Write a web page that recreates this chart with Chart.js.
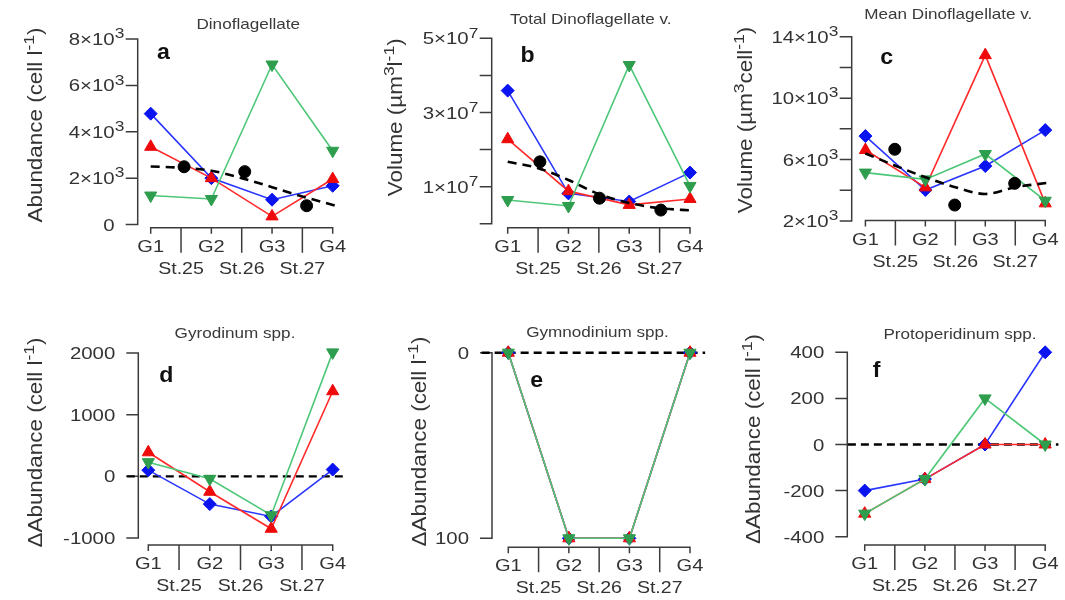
<!DOCTYPE html>
<html><head><meta charset="utf-8">
<script src="https://cdn.jsdelivr.net/npm/chart.js@4.4.0/dist/chart.umd.min.js"></script>
<style>
html,body{margin:0;padding:0;background:#fff;}
#wrap{position:relative;width:1065px;height:600px;overflow:hidden;background:#fff;}
#wrap canvas{position:absolute;left:0;top:0;}
</style></head><body><div id="wrap">
<canvas id="pa" width="1065" height="600"></canvas>
<canvas id="pb" width="1065" height="600"></canvas>
<canvas id="pc" width="1065" height="600"></canvas>
<canvas id="pd" width="1065" height="600"></canvas>
<canvas id="pe" width="1065" height="600"></canvas>
<canvas id="pf" width="1065" height="600"></canvas>
</div>
<script>
// ---------- categories ----------
const groups = ['G1', 'G2', 'G3', 'G4'];
const groupX = [0, 1, 2, 3];
const stations = ['St.25', 'St.26', 'St.27'];
const stationTickX = [0.5, 1.5, 2.5];

// ---------- panel a: Dinoflagellate abundance ----------
const abundBlue  = [4780, 2000, 1070, 1670];
const abundRed   = [3350, 2000, 350, 1960];
const abundGreen = [1250, 1100, 6900, 3180];
const abundStationX = [0.55, 1.55, 2.57];
const abundStation  = [2490, 2280, 810];
const abundTrendX = [0, 0.5, 1, 1.5, 2, 2.5, 3.05];
const abundTrend  = [2500, 2450, 2320, 2000, 1610, 1210, 810];
const abundTicks  = [0, 2000, 4000, 6000, 8000];
const abundTickLabels = ['0', '2×10^{3}', '4×10^{3}', '6×10^{3}', '8×10^{3}'];

// ---------- panel b: Total dinoflagellate volume ----------
const volBlue  = [3.59e7, 0.82e7, 0.60e7, 1.38e7];
const volRed   = [2.28e7, 0.88e7, 0.51e7, 0.67e7];
const volGreen = [0.64e7, 0.48e7, 4.28e7, 1.02e7];
const volStationX = [0.53, 1.51, 2.52];
const volStation  = [1.67e7, 0.69e7, 0.37e7];
const volTrendX = [0, 0.5, 1, 1.5, 2, 2.5, 3.05];
const volTrend  = [1.67e7, 1.50e7, 1.18e7, 0.80e7, 0.56e7, 0.42e7, 0.36e7];
const volTicks  = [0, 1e7, 2e7, 3e7, 4e7, 5e7];
const volTickLabels = ['', '1×10^{7}', '', '3×10^{7}', '', '5×10^{7}'];

// ---------- panel c: Mean dinoflagellate volume ----------
const meanBlue  = [7530, 4020, 5580, 7920];
const meanRed   = [6620, 4190, 12800, 3150];
const meanGreen = [5150, 4710, 6360, 3320];
const meanStationX = [0.49, 1.49, 2.49];
const meanStation  = [6670, 3040, 4450];
const meanTrendX = [0, 0.5, 1, 1.5, 2, 2.5, 3.05];
const meanTrend  = [6400, 5600, 4850, 4200, 3760, 4200, 4490];
const meanTicks  = [2000, 4000, 6000, 8000, 10000, 12000, 14000];
const meanTickLabels = ['2×10^{3}', '', '6×10^{3}', '', '10×10^{3}', '', '14×10^{3}'];

// ---------- panel d: Gyrodinum spp. ----------
const gyroBlue  = [100, -450, -650, 110];
const gyroRed   = [390, -250, -850, 1380];
const gyroGreen = [230, -40, -630, 2010];
const gyroTicks = [-1000, 0, 1000, 2000];
const gyroTickLabels = ['-1000', '0', '1000', '2000'];
const gyroZeroX = [-0.35, 3.17];

// ---------- panel e: Gymnodinium spp. ----------
const gymnoBlue  = [0, 100, 100, 0];
const gymnoRed   = [0, 100, 100, 0];
const gymnoGreen = [0, 100, 100, 0];
const gymnoTicks = [0, 100];
const gymnoTickLabels = ['0', '100'];
const gymnoZeroX = [-0.44, 3.25];

// ---------- panel f: Protoperidinum spp. ----------
const protoBlue  = [-200, -150, 0, 400];
const protoRed   = [-300, -150, 0, 0];
const protoGreen = [-300, -150, 200, 0];
const protoTicks = [-400, -200, 0, 200, 400];
const protoTickLabels = ['-400', '-200', '0', '200', '400'];
const protoZeroX = [-0.28, 3.22];

// ---------- style ----------
const FONT = '"Liberation Sans", Arial, Helvetica, sans-serif';
const AXIS = '#3c3c3c';
const TEXT = '#333';
const BLUE_L = '#2a35ff', BLUE_M = '#0a14f0';
const RED_L = '#ff2a2a', RED_M = '#ee0a0a';
const GREEN_L = '#4cc777', GREEN_M = '#2e9e4e';

function parseRich(str) {
  const segs = []; const re = /\^\{([^}]*)\}/g; let last = 0, m;
  while ((m = re.exec(str))) {
    if (m.index > last) segs.push({ t: str.slice(last, m.index) });
    segs.push({ t: m[1], sup: true }); last = re.lastIndex;
  }
  if (last < str.length) segs.push({ t: str.slice(last) });
  return segs;
}
function drawRich(ctx, str, x, y, o) {
  const segs = parseRich(str);
  const supSize = o.size * (o.supScale || 0.78), raise = o.size * 0.4;
  ctx.save(); ctx.translate(x, y); if (o.rot) ctx.rotate(o.rot); ctx.scale(o.sx || 1, 1);
  ctx.fillStyle = o.color || TEXT; ctx.textBaseline = 'alphabetic'; ctx.textAlign = 'left';
  const fontOf = s => `${o.weight || 'normal'} ${s.sup ? supSize : o.size}px ${FONT}`;
  const w = segs.map(s => { ctx.font = fontOf(s); return ctx.measureText(s.t).width; });
  const total = w.reduce((a, b) => a + b, 0);
  let base = total;
  if (segs.length && segs[segs.length - 1].sup) base -= w[w.length - 1];
  let cur = o.align === 'center' ? -total / 2 : o.align === 'right' ? -total : o.align === 'rightBase' ? -base : 0;
  segs.forEach((s, i) => { ctx.font = fontOf(s); ctx.fillText(s.t, cur, s.sup ? -raise : 0); cur += w[i]; });
  ctx.restore();
}

const deco = {
  id: 'deco',
  beforeDatasetsDraw(chart) {
    const P = chart.options.plugins.deco, ctx = chart.ctx;
    const xs = chart.scales.x, ys = chart.scales.y, ax = chart.chartArea.left;
    ctx.save(); ctx.strokeStyle = AXIS; ctx.lineWidth = 1.5; ctx.lineCap = 'butt';
    const tp = P.ticks.map(v => ys.getPixelForValue(v));
    ctx.beginPath();
    ctx.moveTo(ax, Math.min(...tp) - 0.75); ctx.lineTo(ax, Math.max(...tp) + 0.75);
    tp.forEach(p => { ctx.moveTo(ax - 12, p); ctx.lineTo(ax, p); });
    const xa = P.lay.xAxisY;
    ctx.moveTo(xs.getPixelForValue(groupX[0]) - 0.75, xa); ctx.lineTo(xs.getPixelForValue(groupX[groupX.length - 1]) + 0.75, xa);
    groupX.forEach(g => { const p = xs.getPixelForValue(g); ctx.moveTo(p, xa); ctx.lineTo(p, xa + 6); });
    stationTickX.forEach(g => { const p = xs.getPixelForValue(g); ctx.moveTo(p, xa); ctx.lineTo(p, xa + 25); });
    ctx.stroke(); ctx.restore();
  },
  afterDraw(chart) {
    const P = chart.options.plugins.deco, ctx = chart.ctx, L = P.lay;
    const xs = chart.scales.x, ys = chart.scales.y, ax = chart.chartArea.left;
    P.ticks.forEach((v, i) => {
      if (!P.labels[i]) return;
      drawRich(ctx, P.labels[i], ax - 23, ys.getPixelForValue(v) + 6, { size: 17, sx: 1.2, align: 'rightBase', supScale: 0.85 });
    });
    groups.forEach((g, i) => drawRich(ctx, g, xs.getPixelForValue(groupX[i]), L.xAxisY + 24, { size: 17, sx: 1.18, align: 'center' }));
    stations.forEach((s, i) => drawRich(ctx, s, xs.getPixelForValue(stationTickX[i]), L.xAxisY + 46, { size: 17, sx: 1.15, align: 'center' }));
    drawRich(ctx, P.title, L.title[0], L.title[1], { size: 14.5, sx: 1.18, align: 'center', color: '#3a3a3a' });
    drawRich(ctx, P.letter, L.letter[0], L.letter[1], { size: 22, sx: 1.05, align: 'center', weight: 'bold', color: '#111' });
    drawRich(ctx, P.ytitle, L.ytitle[0], L.ytitle[1], { size: 19.5, sx: 1.15, align: 'center', rot: -Math.PI / 2 });
  }
};

function pts(xArr, yArr) { return yArr.map((v, i) => ({ x: xArr[i], y: v })); }
function series(vals, kind) {
  const base = { data: pts(groupX, vals), borderWidth: 1.6, pointBorderWidth: 1, clip: false, showLine: true, tension: 0 };
  if (kind === 'blue') return Object.assign(base, { borderColor: BLUE_L, pointStyle: 'rectRot', pointRadius: 6.5, pointBackgroundColor: BLUE_M, pointBorderColor: BLUE_M, order: 5 });
  if (kind === 'red') return Object.assign(base, { borderColor: RED_L, pointStyle: 'triangle', pointRadius: 7, pointBackgroundColor: RED_M, pointBorderColor: RED_M, order: 4 });
  return Object.assign(base, { borderColor: GREEN_L, pointStyle: 'triangle', pointRotation: 180, pointRadius: 7, pointBackgroundColor: GREEN_M, pointBorderColor: GREEN_M, order: 3 });
}
function trend(xArr, yArr) {
  return { data: pts(xArr, yArr), borderColor: '#000', borderWidth: 2.6, borderDash: [9, 6], pointRadius: 0, cubicInterpolationMode: 'monotone', clip: false, order: 2 };
}
function stationPts(xArr, yArr) {
  return { data: pts(xArr, yArr), showLine: false, pointStyle: 'circle', pointRadius: 6, pointBackgroundColor: '#000', pointBorderColor: '#000', clip: false, order: 1 };
}
function zeroLine(xArr) {
  return { data: pts(xArr, xArr.map(() => 0)), borderColor: '#000', borderWidth: 2.4, borderDash: [8, 5], pointRadius: 0, clip: false, order: 10 };
}

function makePanel(id, lay, yMin, yMax, reverse, datasets, ticks, labels, title, letter, ytitle) {
  const unit = (lay.g4 - lay.g1) / 3;
  const R = lay.g4 + 12;
  new Chart(document.getElementById(id), {
    type: 'line',
    data: { datasets },
    options: {
      responsive: false, animation: false, devicePixelRatio: 1,
      layout: { padding: { left: lay.L, top: lay.T, right: 1065 - R, bottom: 600 - lay.B } },
      scales: {
        x: { type: 'linear', display: false, min: (lay.L - lay.g1) / unit, max: 3 + (R - lay.g4) / unit },
        y: { type: 'linear', display: false, min: yMin, max: yMax, reverse }
      },
      plugins: { legend: { display: false }, tooltip: { enabled: false },
        deco: { lay, ticks, labels, title, letter, ytitle } }
    },
    plugins: [deco]
  });
}

makePanel('pa', { L: 137.7, T: 39, B: 224.5, g1: 150.7, g4: 332.7, xAxisY: 227.7, title: [248.3, 29.3], letter: [163.3, 59.3], ytitle: [41.7, 125] },
  0, 8000, false,
  [series(abundBlue, 'blue'), series(abundRed, 'red'), series(abundGreen, 'green'), trend(abundTrendX, abundTrend), stationPts(abundStationX, abundStation)],
  abundTicks, abundTickLabels, 'Dinoflagellate', 'a', 'Abundance (cell l^{-1})');

makePanel('pb', { L: 491.7, T: 38.3, B: 223.8, g1: 507.7, g4: 690, xAxisY: 227.7, title: [590.8, 24], letter: [527.5, 61.7], ytitle: [401.7, 117.3] },
  0, 5e7, false,
  [series(volBlue, 'blue'), series(volRed, 'red'), series(volGreen, 'green'), trend(volTrendX, volTrend), stationPts(volStationX, volStation)],
  volTicks, volTickLabels, 'Total Dinoflagellate v.', 'b', 'Volume (µm^{3}l^{-1})');

makePanel('pc', { L: 851.7, T: 36.7, B: 221, g1: 865.7, g4: 1049.3, xAxisY: 220.5, title: [948.3, 19.3], letter: [886.7, 64], ytitle: [751.7, 120] },
  2000, 14000, false,
  [series(meanBlue, 'blue'), series(meanRed, 'red'), series(meanGreen, 'green'), trend(meanTrendX, meanTrend), stationPts(meanStationX, meanStation)],
  meanTicks, meanTickLabels, 'Mean Dinoflagellate v.', 'c', 'Volume (µm^{3}cell^{-1})');

makePanel('pd', { L: 138.3, T: 353, B: 538, g1: 148.3, g4: 332.7, xAxisY: 545, title: [235, 338.3], letter: [166.3, 381.7], ytitle: [41.7, 442.5] },
  -1000, 2000, false,
  [zeroLine(gyroZeroX), series(gyroBlue, 'blue'), series(gyroRed, 'red'), series(gyroGreen, 'green')],
  gyroTicks, gyroTickLabels, 'Gyrodinum spp.', 'd', 'ΔAbundance (cell l^{-1})');

makePanel('pe', { L: 492, T: 352.7, B: 538.3, g1: 508.3, g4: 690, xAxisY: 547.3, title: [597.5, 337.3], letter: [536.7, 387.3], ytitle: [426, 441.5] },
  0, 100, true,
  [zeroLine(gymnoZeroX), series(gymnoBlue, 'blue'), series(gymnoRed, 'red'), series(gymnoGreen, 'green')],
  gymnoTicks, gymnoTickLabels, 'Gymnodinium spp.', 'e', 'ΔAbundance (cell l^{-1})');

makePanel('pf', { L: 847.3, T: 352.3, B: 536.7, g1: 865, g4: 1048.3, xAxisY: 545, title: [960, 339.3], letter: [876.7, 376.7], ytitle: [760, 439] },
  -400, 400, false,
  [zeroLine(protoZeroX), series(protoBlue, 'blue'), series(protoRed, 'red'), series(protoGreen, 'green')],
  protoTicks, protoTickLabels, 'Protoperidinum spp.', 'f', 'ΔAbundance (cell l^{-1})');
</script>
</body></html>
